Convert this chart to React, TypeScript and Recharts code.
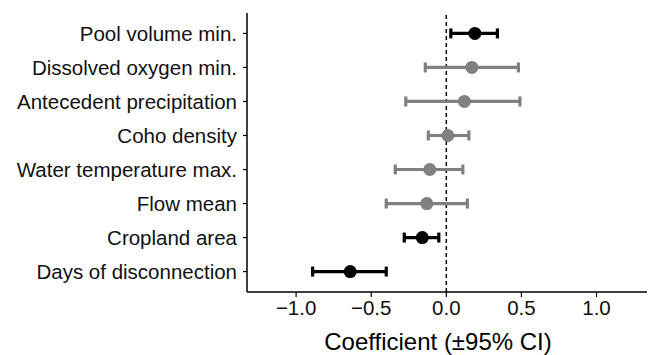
import React from "react";
import {
  ScatterChart,
  Scatter,
  XAxis,
  YAxis,
  ErrorBar,
  ReferenceLine,
} from "recharts";

// predictors, listed top to bottom as in the figure
const labels = [
  "Pool volume min.",
  "Dissolved oxygen min.",
  "Antecedent precipitation",
  "Coho density",
  "Water temperature max.",
  "Flow mean",
  "Cropland area",
  "Days of disconnection",
];
const estimates = [0.19, 0.17, 0.12, 0.01, -0.11, -0.13, -0.16, -0.64];
const lower = [0.03, -0.14, -0.27, -0.12, -0.34, -0.4, -0.28, -0.89];
const upper = [0.34, 0.48, 0.49, 0.15, 0.11, 0.14, -0.05, -0.4];
const significant = [true, false, false, false, false, false, true, true];
const xTicks = [-1, -0.5, 0, 0.5, 1];

const rows = labels.map((label, i) => ({
  label,
  pos: labels.length - i,
  est: estimates[i],
  err: [estimates[i] - lower[i], upper[i] - estimates[i]],
  sig: significant[i],
}));
const sigRows = rows.filter((r) => r.sig);
const nsRows = rows.filter((r) => !r.sig);

const BLACK = "#000000";
const GREY = "#808080";

function fmtX(v: number) {
  const s = Math.abs(v).toFixed(1);
  return v < 0 ? "\u2212" + s : s;
}

function fmtY(v: number) {
  return labels[labels.length - v] ?? "";
}

const dot = (color: string) => (props: any) =>
  <circle cx={props.cx} cy={props.cy} r={6.5} fill={color} />;

export default function App() {
  return (
    <div
      style={{
        position: "absolute",
        left: 0,
        top: 0,
        width: 651,
        height: 355,
        background: "#fff",
        fontFamily: '"Liberation Sans", Arial, sans-serif',
      }}
    >
      <ScatterChart
        width={651}
        height={355}
        margin={{ top: 13, right: 4, bottom: 0, left: 0 }}
      >
        <XAxis
          type="number"
          dataKey="est"
          domain={[-1.327, 1.336]}
          ticks={xTicks}
          tickFormatter={fmtX}
          allowDataOverflow
          height={63}
          axisLine={{ stroke: BLACK, strokeWidth: 1.5 }}
          tickLine={{ stroke: BLACK, strokeWidth: 1.2 }}
          tickSize={5}
          tickMargin={3}
          tick={{ fontSize: 20.5, fill: "#111" }}
          label={{
            value: "Coefficient (\u00b195% CI)",
            position: "insideBottom",
            offset: 5,
            dx: -9,
            fontSize: 24,
            fill: "#000",
          }}
        />
        <YAxis
          type="number"
          dataKey="pos"
          domain={[0.4, 8.6]}
          ticks={[1, 2, 3, 4, 5, 6, 7, 8]}
          tickFormatter={fmtY}
          width={247}
          axisLine={{ stroke: BLACK, strokeWidth: 1.5 }}
          tickLine={{ stroke: BLACK, strokeWidth: 1.2 }}
          tickSize={4}
          tickMargin={6}
          tick={{ fontSize: 20.5, fill: "#111" }}
        />
        <ReferenceLine
          x={0}
          stroke={BLACK}
          strokeWidth={1.5}
          strokeDasharray="4 3"
        />
        <Scatter
          data={nsRows}
          fill={GREY}
          shape={dot(GREY)}
          isAnimationActive={false}
        >
          <ErrorBar
            dataKey="err"
            direction="x"
            width={5}
            stroke={GREY}
            strokeWidth={3.2}
          />
        </Scatter>
        <Scatter
          data={sigRows}
          fill={BLACK}
          shape={dot(BLACK)}
          isAnimationActive={false}
        >
          <ErrorBar
            dataKey="err"
            direction="x"
            width={5}
            stroke={BLACK}
            strokeWidth={3.2}
          />
        </Scatter>
      </ScatterChart>
    </div>
  );
}
